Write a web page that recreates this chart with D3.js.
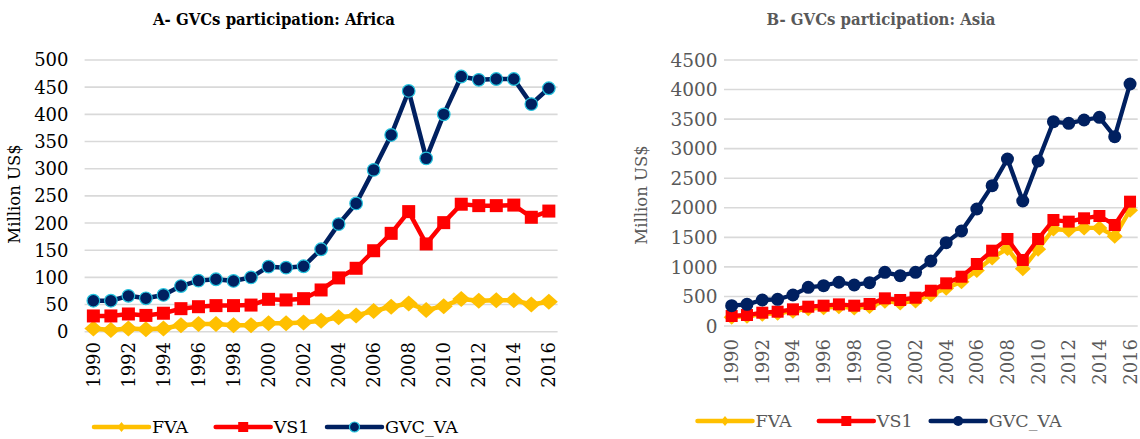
<!DOCTYPE html>
<html><head><meta charset="utf-8">
<script src="https://cdn.jsdelivr.net/npm/d3@7"></script>
<style>body{margin:0;background:#fff} svg{display:block}</style>
</head><body>
<svg id="c" width="1140" height="439"></svg>
<script>
const years = [1990,1991,1992,1993,1994,1995,1996,1997,1998,1999,2000,2001,2002,2003,2004,2005,2006,2007,2008,2009,2010,2011,2012,2013,2014,2015,2016];
const yearLabels = [1990,1992,1994,1996,1998,2000,2002,2004,2006,2008,2010,2012,2014,2016];
const seriesNames = ["FVA","VS1","GVC_VA"];

const africaFVA = [6,3,6,4.5,6,12,14,14,12,12,15.5,15.5,17,20,26.5,30,38,46,52,40,47,60,57,58,58,50,55];
const africaVS1 = [29,29,32.6,30,34,42.4,46,48,48,49,59.6,58.4,60.8,76.8,99,116.7,149,181,221,161.5,200.7,234.6,232,232,233,210.6,222];
const africaGVC = [57,57,66,61.5,67.6,84,94,96.5,93.4,100,119.7,117.9,120.4,151.7,198,236,297.8,362,443,319,400,469.6,463.5,465,465,418.8,448];
const africaTicks = [0,50,100,150,200,250,300,350,400,450,500];

const asiaFVA = [150,165,200,215,250,290,310,325,305,330,420,390,425,530,640,750,940,1150,1310,970,1300,1640,1620,1660,1660,1520,1960];
const asiaVS1 = [169,186,225,242,282,327,344,366,344,372,468,440,479,597,722,834,1049,1274,1472,1117,1472,1793,1765,1822,1861,1709,2103];
const asiaGVC = [344,366,440,452,524,654,683,740,694,733,908,851,908,1100,1410,1607,1979,2374,2825,2115,2791,3456,3428,3485,3530,3203,4094];
const asiaTicks = [0,500,1000,1500,2000,2500,3000,3500,4000,4500];

const colors = {FVA:"#FFC000", VS1:"#FF0000", GVC_VA:"#002060"};
const svg = d3.select("#c");
const FONT = "DejaVu Serif";

function diamondPath(w,h){ return `M0,${-h}L${w},0L0,${h}L${-w},0Z`; }

function drawPanel(cfg){
  const g = svg.append("g");
  const x = d3.scaleBand().domain(years).range([cfg.x0, cfg.x1]).paddingInner(0).paddingOuter(0);
  const y = d3.scaleLinear().domain([0, cfg.max]).range([cfg.yb, cfg.yt]);
  const cx = d => x(d) + x.bandwidth()/2;

  g.append("g").selectAll("line").data(cfg.ticks).join("line")
    .attr("x1", cfg.x0).attr("x2", cfg.x1)
    .attr("y1", d=>y(d)).attr("y2", d=>y(d))
    .attr("stroke", "#D9D9D9").attr("stroke-width", 1.6);

  g.append("g").selectAll("text").data(cfg.ticks).join("text")
    .attr("x", cfg.labelRight).attr("y", d=>y(d)).attr("dy","0.36em")
    .attr("text-anchor","end").attr("font-family",FONT).attr("font-size",cfg.tickSize)
    .attr("fill", cfg.textColor).text(d=>d);

  g.append("g").selectAll("text").data(yearLabels).join("text")
    .attr("transform", d=>`translate(${cx(d)},${cfg.xLabelTop}) rotate(-90)`)
    .attr("dy","0.36em").attr("text-anchor","end")
    .attr("font-family",FONT).attr("font-size",18).attr("fill",cfg.textColor).text(d=>d);

  g.append("text").attr("transform",`translate(${cfg.yTitleX},${cfg.yTitleY}) rotate(-90)`)
    .attr("text-anchor","middle").attr("dy","0.36em")
    .attr("font-family",FONT).attr("font-size",16.5).attr("fill",cfg.textColor).text("Million US$");

  g.append("text").attr("x",cfg.titleX).attr("y",25).attr("text-anchor","middle")
    .attr("font-family",FONT).attr("font-weight","bold").attr("font-size",17)
    .attr("textLength",cfg.titleW).attr("lengthAdjust","spacingAndGlyphs")
    .attr("fill",cfg.titleColor).text(cfg.title);

  const line = d3.line().x((d,i)=>cx(years[i])).y(d=>y(d));
  const data = {FVA:cfg.fva, VS1:cfg.vs1, GVC_VA:cfg.gvc};
  seriesNames.forEach(name=>{
    const vals = data[name];
    const sg = g.append("g");
    sg.append("path").attr("d", line(vals)).attr("fill","none")
      .attr("stroke",colors[name]).attr("stroke-width",cfg.lw).attr("stroke-linejoin","round");
    const pts = sg.selectAll("g").data(vals).join("g")
      .attr("transform",(d,i)=>`translate(${cx(years[i])},${y(d)})`);
    if(name==="FVA"){
      pts.append("path").attr("d",diamondPath(cfg.dw,cfg.dh)).attr("fill",colors.FVA);
    } else if(name==="VS1"){
      pts.append("rect").attr("x",-cfg.sq/2).attr("y",-cfg.sq/2).attr("width",cfg.sq).attr("height",cfg.sq).attr("fill",colors.VS1);
    } else {
      pts.append("circle").attr("r",cfg.cr).attr("fill",colors.GVC_VA)
        .attr("stroke",cfg.circleStroke).attr("stroke-width",cfg.circleStroke==="none"?0:1.2);
    }
  });

  const lg = g.append("g");
  seriesNames.forEach((name,i)=>{
    const lx = cfg.legX[i], ly = cfg.legY;
    lg.append("line").attr("x1",lx).attr("x2",lx+55).attr("y1",ly).attr("y2",ly)
      .attr("stroke",colors[name]).attr("stroke-width",4.5).attr("stroke-linecap","round");
    const m = lg.append("g").attr("transform",`translate(${lx+27.5},${ly})`);
    if(name==="FVA") m.append("path").attr("d",diamondPath(4,5)).attr("fill",colors.FVA);
    else if(name==="VS1") m.append("rect").attr("x",-5).attr("y",-5).attr("width",10).attr("height",10).attr("fill",colors.VS1);
    else m.append("circle").attr("r",5).attr("fill",colors.GVC_VA).attr("stroke",cfg.circleStroke).attr("stroke-width",cfg.circleStroke==="none"?0:1.2);
    lg.append("text").attr("x",lx+58).attr("y",ly).attr("dy","0.36em")
      .attr("font-family",FONT).attr("font-size",17.5).attr("fill",cfg.textColor).text(name);
  });
}

drawPanel({
  x0:84.6, x1:557.6, yb:331.7, yt:60, max:500, ticks:africaTicks,
  fva:africaFVA, vs1:africaVS1, gvc:africaGVC,
  textColor:"#000", titleColor:"#000", title:"A- GVCs participation: Africa", titleX:274, titleW:242,
  labelRight:68.5, tickSize:18, xLabelTop:342, yTitleX:14, yTitleY:194,
  lw:4.5, dw:9, dh:8, sq:13, cr:6.3, circleStroke:"#25C4DE",
  legX:[94,215.7,327], legY:427
});
drawPanel({
  x0:724, x1:1137.7, yb:326, yt:60, max:4500, ticks:asiaTicks,
  fva:asiaFVA, vs1:asiaVS1, gvc:asiaGVC,
  textColor:"#595959", titleColor:"#595959", title:"B- GVCs participation: Asia", titleX:881, titleW:229,
  labelRight:717.5, tickSize:18.5, xLabelTop:339, yTitleX:641, yTitleY:195,
  lw:4.3, dw:8, dh:7.5, sq:12, cr:6.5, circleStroke:"none",
  legX:[697.5,818.8,930.7], legY:421
});
</script>
</body></html>
